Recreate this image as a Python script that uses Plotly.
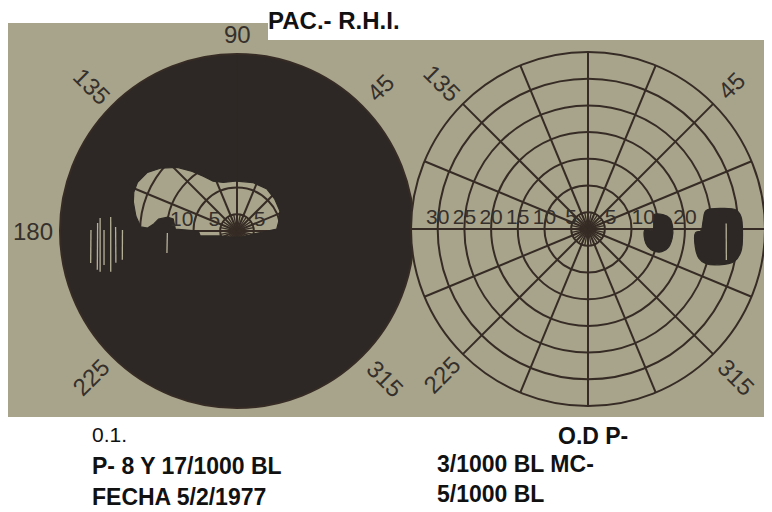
import numpy as np
import plotly.graph_objects as go

W, H = 772, 512
OFF = 8  # the page body margin shifts the figure by 8 px

# ---------------- data ----------------
ring_values = [5, 10, 15, 20, 25, 30]          # isopter rings (degrees)
field_limit = 35                                 # outer border of the chart
center_limit = 1.85                              # radial value at the fixation point
spoke_angles = [i * 22.5 for i in range(16)]     # meridians
inner_spoke_angles = [11.25 + i * 22.5 for i in range(16)]

angle_label_text = ["90", "135", "45", "180", "225", "315"]
angle_label_theta = [90, 135, 45, 180, 225, 315]
angle_label_rot = [0, 45, -45, 0, -45, 45]
angle_label_dist = [197, 205, 203, 204, 207, 209]
right_angle_label_text = ["135", "45", "225", "315"]
right_angle_label_theta = [135, 45, 225, 315]
right_angle_label_rot = [45, -45, -45, 45]
right_angle_label_dist = [206, 203, 206, 210]

# left eye: island of preserved field (everything else is blind)
island_theta = [90, 71.9, 54.5, 40.1, 24.9, 13.4, 2.9, 357.8, 349.4, 315, 220.6,
                196.4, 187.7, 180, 178.2, 169.4, 168.7, 171.4, 175.2, 178.1, 177.6,
                171.6, 164.4, 159.4, 153.9, 146.8, 140.7, 133.2, 126.9, 121.7,
                115.6, 105.9]
island_r = [11.2, 11.4, 11.5, 11.1, 10.7, 9.9, 9.3, 6.7, 4.9, 3.4, 3.6,
            5.1, 8.8, 9.1, 13.4, 14.0, 15.1, 16.7, 17.5, 18.6, 19.9,
            21.0, 22.0, 22.5, 22.6, 21.9, 20.4, 18.2, 15.8, 13.9,
            12.2, 11.3]

# right eye: two scotomas
blob1_theta = [12.0, 11.0, 7.4, 1.5, 353.7, 346.5, 342.1, 341.8, 346.1, 359.0, 359.1, 4.9]
blob1_r = [14.4, 16.1, 17.3, 17.7, 17.7, 17.2, 15.9, 14.3, 13.0, 12.5, 14.0, 14.2]
blob2_theta = [8.8, 8.7, 7.3, 4.6, 358.4, 351.6, 347.5, 344.7, 343.6, 345.3, 350.7, 358.0, 359.1, 4.4]
blob2_r = [24.2, 27.3, 29.8, 30.6, 30.8, 30.8, 29.9, 27.3, 24.9, 23.3, 22.2, 22.0, 23.0, 23.5]

# pale scratch marks inside the blind area (left eye) and in the outer scotoma
streak_theta = [(179.6, 192.3), (176.7, 195.5), (174.6, 196.6), (179.6, 194.3),
                (173.7, 197.9), (178.1, 194.7), (179.5, 194.1), (181.6, 197.4)]
streak_r = [(29.2, 29.9), (28.0, 29.0), (27.6, 28.6), (26.75, 27.55),
            (25.65, 26.7), (24.6, 25.3), (23.3, 24.0), (14.9, 15.6)]
streak2_theta = [(2.3, 347.4)]
streak2_r = [(27.75, 28.4)]

# ring labels
left_lbl_text = ["10", "5", "5"]
left_lbl_r = [10, 5, 5]
left_lbl_theta = [180, 180, 0]
left_lbl_pos = ["top left", "top left", "top right"]
right_lbl_text = ["30", "25", "20", "15", "10", "5", "5", "10", "20"]
right_lbl_r = [30, 25, 20, 15, 10, 5, 5, 10, 20]
right_lbl_theta = [180, 180, 180, 180, 180, 180, 0, 0, 0]
right_lbl_pos = ["top center"] * 6 + ["top right", "top right", "top center"]

title_text = "PAC.- R.H.I."
notes_left = ["0.1.", "P- 8 Y 17/1000 BL", "FECHA 5/2/1977"]
notes_right = ["O.D P-", "3/1000 BL MC-", "5/1000 BL"]

# ---------------- style ----------------
BEIGE = "#a8a48b"
DARK = "#2d2825"
GRID = "#362c25"
LABEL = "#35302b"
FONT = "Liberation Sans, Arial, sans-serif"

LC, RC, RAD = (237, 231), (588, 229), 177


def fx(X):
    return (X - OFF) / W


def fy(Y):
    return 1 - (Y - OFF) / H


def dom(c):
    return dict(x=[fx(c[0] - RAD), fx(c[0] + RAD)],
                y=[fy(c[1] + RAD), fy(c[1] - RAD)])


fig = go.Figure()


def wheel(sub):
    th, rr = [], []
    for a in inner_spoke_angles:
        th += [a, a, None]
        rr += [center_limit, ring_values[0], None]
    fig.add_trace(go.Scatterpolar(theta=th, r=rr, mode="lines", subplot=sub,
                                  line=dict(color=GRID, width=1.3), hoverinfo="skip"))


def streaks(sub, thetas, rs):
    st, sr = [], []
    for t, r in zip(thetas, rs):
        st += [t[0], t[1], None]
        sr += [r[0], r[1], None]
    fig.add_trace(go.Scatterpolar(theta=st, r=sr, mode="lines", subplot=sub,
                                  line=dict(color="rgba(205,200,172,0.85)", width=1.3),
                                  hoverinfo="skip"))


# ----- left eye -----
wheel("polar")
outer_t = list(np.linspace(90, 450, 241))
outer_r = [field_limit] * len(outer_t)
dark_t = outer_t + island_theta + [island_theta[0], 90]
dark_r = outer_r + island_r + [island_r[0], field_limit]
fig.add_trace(go.Scatterpolar(theta=dark_t, r=dark_r, mode="lines", fill="toself",
                              fillcolor=DARK, line=dict(color=DARK, width=1.2),
                              subplot="polar", hoverinfo="skip"))
streaks("polar", streak_theta, streak_r)
fig.add_trace(go.Scatterpolar(theta=left_lbl_theta, r=left_lbl_r, text=left_lbl_text,
                              mode="text", textposition=left_lbl_pos, subplot="polar",
                              textfont=dict(size=21, color=LABEL, family=FONT), hoverinfo="skip"))

# ----- right eye -----
wheel("polar2")
for bt, br in [(blob1_theta, blob1_r), (blob2_theta, blob2_r)]:
    fig.add_trace(go.Scatterpolar(theta=bt + [bt[0]], r=br + [br[0]], mode="lines",
                                  fill="toself", fillcolor=DARK,
                                  line=dict(color=DARK, width=1.2, shape="spline"),
                                  subplot="polar2", hoverinfo="skip"))
streaks("polar2", streak2_theta, streak2_r)
fig.add_trace(go.Scatterpolar(theta=right_lbl_theta, r=right_lbl_r, text=right_lbl_text,
                              mode="text", textposition=right_lbl_pos, subplot="polar2",
                              textfont=dict(size=21, color=LABEL, family=FONT), hoverinfo="skip"))


def polar_cfg(c):
    return dict(
        domain=dom(c), bgcolor=BEIGE,
        radialaxis=dict(range=[center_limit, field_limit], tickvals=ring_values,
                        showticklabels=False, ticks="", showline=False,
                        gridcolor=GRID, gridwidth=1.8),
        angularaxis=dict(tickmode="array", tickvals=spoke_angles, showticklabels=False,
                         ticks="", showline=True, linecolor=GRID, linewidth=2,
                         gridcolor=GRID, gridwidth=1.8, rotation=0,
                         direction="counterclockwise"),
    )


annotations = []
for c, texts, thetas, rots, dists in [
        (LC, angle_label_text, angle_label_theta, angle_label_rot, angle_label_dist),
        (RC, right_angle_label_text, right_angle_label_theta, right_angle_label_rot,
         right_angle_label_dist)]:
    for t, th, rot, d in zip(texts, thetas, rots, dists):
        px = c[0] + d * np.cos(np.radians(th))
        py = c[1] - d * np.sin(np.radians(th))
        annotations.append(dict(text=t, x=fx(px), y=fy(py), xref="paper", yref="paper",
                                showarrow=False, textangle=rot, xanchor="center", yanchor="middle",
                                font=dict(size=24, color=LABEL, family=FONT)))

annotations.append(dict(text="<b>%s</b>" % title_text, x=fx(266), y=fy(20), xref="paper",
                        yref="paper", showarrow=False, xanchor="left", yanchor="middle",
                        font=dict(size=24, color="#111111", family=FONT)))
left_y = [434, 466, 497]
right_y = [436, 464, 494]
right_x = [556, 435, 435]
for i, t in enumerate(notes_left):
    annotations.append(dict(text=t if i == 0 else "<b>%s</b>" % t, x=fx(90), y=fy(left_y[i]),
                            xref="paper", yref="paper", showarrow=False, xanchor="left",
                            yanchor="middle",
                            font=dict(size=21 if i == 0 else 23, color="#111111", family=FONT)))
for i, t in enumerate(notes_right):
    annotations.append(dict(text="<b>%s</b>" % t, x=fx(right_x[i]), y=fy(right_y[i]),
                            xref="paper", yref="paper", showarrow=False, xanchor="left",
                            yanchor="middle", font=dict(size=23, color="#111111", family=FONT)))

shapes = [
    dict(type="rect", xref="paper", yref="paper", x0=fx(8), x1=1, y0=fy(417), y1=fy(40),
         fillcolor=BEIGE, line=dict(width=0), layer="below"),
    dict(type="rect", xref="paper", yref="paper", x0=fx(8), x1=fx(268), y0=fy(41), y1=fy(23),
         fillcolor=BEIGE, line=dict(width=0), layer="below"),
]

fig.update_layout(
    width=W, height=H, margin=dict(l=0, r=0, t=0, b=0),
    paper_bgcolor="white", plot_bgcolor="white", showlegend=False,
    polar=polar_cfg(LC), polar2=polar_cfg(RC),
    annotations=annotations, shapes=shapes,
)

fig.write_html("out.html")
